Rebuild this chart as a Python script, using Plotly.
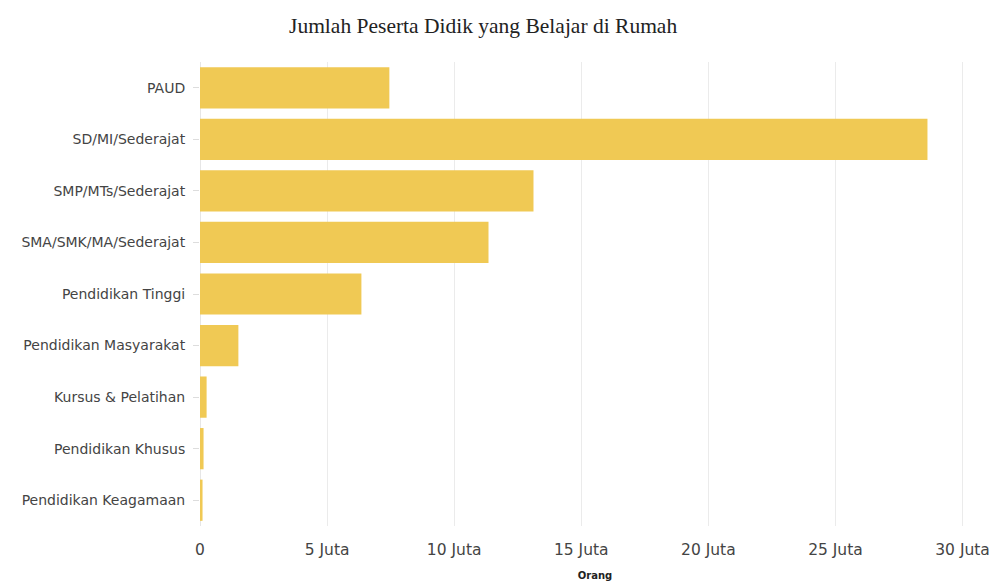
import plotly.graph_objects as go

categories = [
    "PAUD",
    "SD/MI/Sederajat",
    "SMP/MTs/Sederajat",
    "SMA/SMK/MA/Sederajat",
    "Pendidikan Tinggi",
    "Pendidikan Masyarakat",
    "Kursus & Pelatihan",
    "Pendidikan Khusus",
    "Pendidikan Keagamaan",
]
values = [7.45e6, 28.62e6, 13.12e6, 11.35e6, 6.35e6, 1.51e6, 0.26e6, 0.14e6, 0.10e6]

tick_vals = [0, 5e6, 10e6, 15e6, 20e6, 25e6, 30e6]
tick_text = ["0", "5 Juta", "10 Juta", "15 Juta", "20 Juta", "25 Juta", "30 Juta"]

fig = go.Figure(
    go.Bar(
        x=values,
        y=categories,
        orientation="h",
        marker=dict(color="rgb(240,201,84)", line=dict(width=0)),
        hoverinfo="x+y",
    )
)

fig.update_layout(
    width=992,
    height=581,
    paper_bgcolor="white",
    plot_bgcolor="white",
    margin=dict(l=200, r=2, t=62, b=55, autoexpand=False),
    bargap=0.2,
    showlegend=False,
    title=dict(
        text="Jumlah Peserta Didik yang Belajar di Rumah",
        x=0.487,
        xanchor="center",
        y=0.957,
        yanchor="middle",
        font=dict(family="Liberation Serif", size=21.5, color="#222"),
    ),
    font=dict(family="DejaVu Sans", size=14, color="#444"),
)

fig.update_xaxes(
    range=[0, 31.08e6],
    automargin=False,
    tickvals=tick_vals,
    ticktext=tick_text,
    showgrid=True,
    gridcolor="#ebebeb",
    gridwidth=1,
    zeroline=True,
    zerolinecolor="#e6e6e6",
    zerolinewidth=1,
    ticks="outside",
    ticklen=9,
    tickcolor="rgba(0,0,0,0)",
    tickfont=dict(family="DejaVu Sans", size=15.5, color="#444"),
    title=dict(
        text="<b>Orang</b>",
        font=dict(family="DejaVu Sans", size=10, color="#222"),
        standoff=15,
    ),
)

fig.update_yaxes(
    autorange="reversed",
    automargin=False,
    showgrid=False,
    ticks="outside",
    ticklen=6,
    tickcolor="#dddddd",
    ticklabelstandoff=5,
    tickfont=dict(family="DejaVu Sans", size=14, color="#444"),
)

fig.write_html(
    "out.html",
    config={"displayModeBar": False},
    post_script="document.body.style.margin='0';document.body.style.padding='0';",
)
